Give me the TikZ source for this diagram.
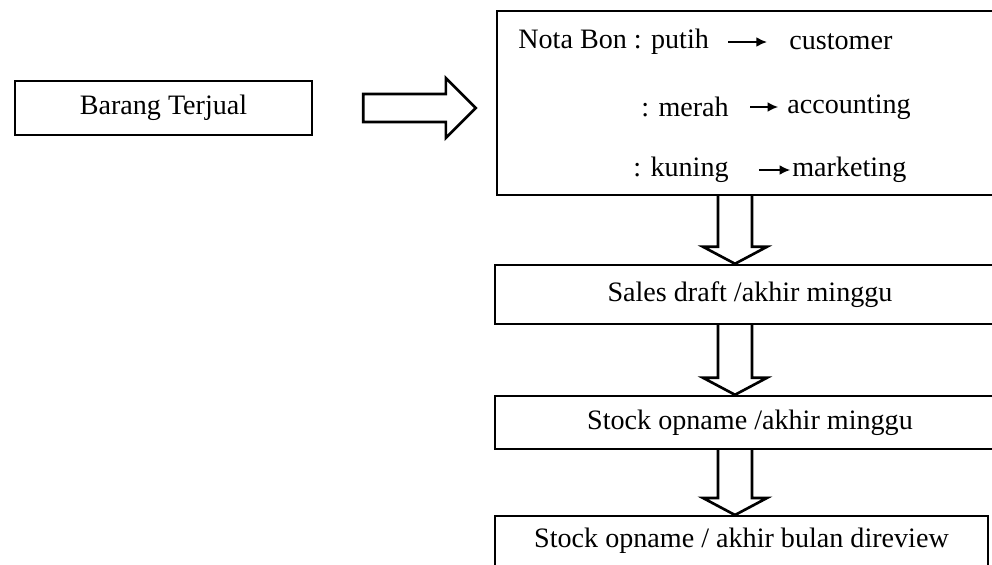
\documentclass[tikz,border=0pt]{standalone}
\usepackage{fontspec}
\setmainfont{Liberation Serif}
\usetikzlibrary{positioning, calc, arrows.meta}

% hollow block arrows: #1 = tail point, #2 = tip point
\newcommand{\hollowdown}[2]{%
  \draw[hollow] ($#1+(-17,0)$) -- ($#2+(-17,-17)$) -- ($#2+(-32,-17)$) -- #2
    -- ($#2+(32,-17)$) -- ($#2+(17,-17)$) -- ($#1+(17,0)$);}
\newcommand{\hollowright}[2]{%
  \draw[hollow] ($#1+(0,-14)$) -- ($#2+(-30,-14)$) -- ($#2+(-30,-30)$) -- #2
    -- ($#2+(-30,30)$) -- ($#2+(-30,14)$) -- ($#1+(0,14)$) -- cycle;}

\begin{document}
\begin{tikzpicture}[
    x=0.02cm, y=-0.02cm,
    % boxes
    box/.style={
        draw, 
        line width=1.4pt, 
        align=center, 
        font=\fontsize{16}{18}\selectfont
    },
    % words inside the Nota Bon box
    word/.style={
        anchor=west, 
        inner sep=0pt, 
        font=\fontsize{16}{18}\selectfont
    },
    % small arrows between the words
    tip/.style={
        line width=1pt, 
        -{Latex[length=6pt, width=5.5pt]}
    },
    % outline of the block arrows
    hollow/.style={
        line width=1.5pt, 
        line join=miter, 
        fill=white
    }
]
\useasboundingbox (0,0) rectangle (992,565);

% --- LEFT BOX ---
\node (barang) [box, minimum width=5.94cm, minimum height=1.08cm] at (163.5,108) {Barang Terjual};

% --- NOTA BON BOX ---
\node (notabox) [box, minimum width=10.16cm, minimum height=3.68cm] at (751,103) {};

\node (putih) [word] at (518,42) {Nota Bon : putih};
\node (merah) [word] at (641,107) {: merah};
\node (kuning) [word] at (633,170) {: kuning};
\node (cust) [word] at (789,42) {customer};
\node (acct) [word] at (787,107) {accounting};
\node (mkt) [word] at (792,170) {marketing};

% --- FLOW DOWN ---
\node (sales) [box, minimum width=10.2cm, minimum height=1.18cm] at (750,294.5) {Sales draft /akhir minggu};
\node (stock) [box, minimum width=10.2cm, minimum height=1.06cm] at (750,422.5) {Stock opname /akhir minggu};
\node (review) [box, minimum width=9.86cm, text height=0.5cm, text depth=0.6cm, inner ysep=0.12cm, anchor=north] at (741.5,515) {Stock opname / akhir bulan direview};

\coordinate (flow) at (735,0);

% --- CONNECTIONS ---
\draw [tip, shorten <=10.8pt, shorten >=12.5pt] (putih) -- (cust);
\draw [tip, shorten <=12pt, shorten >=5pt] (merah) -- (acct);
\draw [tip, shorten <=17pt, shorten >=1pt] (kuning) -- (mkt);

\coordinate (tail) at ($(barang.east)+(50,0)$);
\coordinate (head) at ($(barang.east -| notabox.west)+(-20,0)$);
\hollowright{(tail)}{(head)}

\hollowdown{(notabox.south -| flow)}{(sales.north -| flow)}
\hollowdown{(sales.south -| flow)}{(stock.north -| flow)}
\hollowdown{(stock.south -| flow)}{(review.north -| flow)}

\end{tikzpicture}
\end{document}
